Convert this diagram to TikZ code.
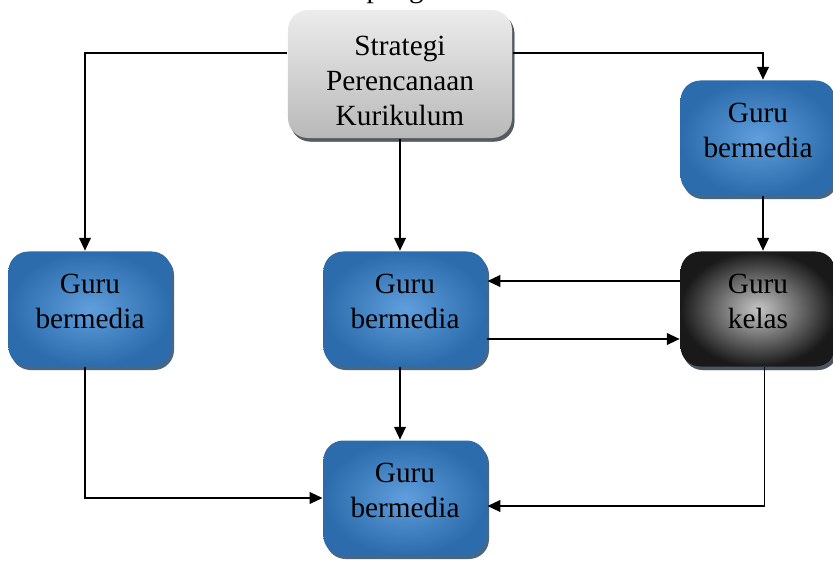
\documentclass[tikz,border=0pt]{standalone}
\usepackage{fontspec}
\setmainfont{Liberation Serif}
\usetikzlibrary{%
  arrows.meta,%
  shadows,% wg. drop shadow
  positioning,%
  calc%
}

\definecolor{boxblue}{RGB}{44,108,172}
\definecolor{boxlight}{RGB}{96,158,220}

\tikzset{
  guru/.style={rounded corners=0.6cm, minimum width=4.9cm, minimum height=3.45cm,
    inner color=boxlight, outer color=boxblue, align=center, text depth=0.47cm,
    drop shadow={shadow xshift=2pt,shadow yshift=-3pt,fill=boxblue!60!black,opacity=.8}},
  kelasbox/.style={guru, inner color=gray!45, outer color=black!90,
    drop shadow={shadow xshift=2pt,shadow yshift=-3pt,fill=black!70,opacity=.6}},
  stratbox/.style={guru, minimum width=6.72cm, minimum height=3.84cm,
    text depth=0pt, text height=3.1cm,
    top color=gray!15, bottom color=gray!55,
    drop shadow={shadow xshift=2pt,shadow yshift=-3pt,fill=gray!70!black,opacity=.8}},
}

\begin{document}
\begin{tikzpicture}[
  x=0.03cm, y=-0.03cm,
  font=\fontsize{25}{30}\selectfont,
  >={Triangle[length=11pt,width=10pt]},
  line width=1.4pt,
]
\useasboundingbox (0,0) rectangle (833,561);
\clip (0,0) rectangle (833,561);

\node[anchor=base west] (judul) at (362,-2) {pengelolaan};

\node[stratbox] (strat) at (400,74) {Strategi\\Perencanaan\\Kurikulum};
\node[guru, minimum width=4.65cm] (rtop) at (758,138) {Guru\\bermedia};
\node[guru] (left) at (90,309) {Guru\\bermedia};
\node[guru] (mid) at (405,309) {Guru\\bermedia};
\node[kelasbox, minimum width=4.65cm] (kelas) at (758,309) {Guru\\kelas};
\node[guru] (bot) at (405,498) {Guru\\bermedia};

\draw [->] ([yshift=0.63cm]strat.west) -| ([xshift=-0.15cm]left.north);
\draw [->] ([yshift=0.63cm]strat.east) -| ([xshift=0.15cm]rtop.north);
\draw [->] (strat.south) -- (strat.south |- mid.north);
\draw [->] ([xshift=0.15cm]rtop.south) -- ([xshift=0.15cm]kelas.north);
\draw [->] ([yshift=0.84cm]kelas.west) -- ([yshift=0.84cm]mid.east);
\draw [->] ([yshift=-0.9cm]mid.east) -- ([yshift=-0.9cm]kelas.west);
\draw [->] ([xshift=-0.15cm]mid.south) -- ([xshift=-0.15cm]bot.north);
\draw [->] ([xshift=-0.15cm]left.south) |- (bot.west);
\draw [->] ([xshift=0.2cm]kelas.south) |- ([yshift=-0.24cm]bot.east);

\end{tikzpicture}
\end{document}
